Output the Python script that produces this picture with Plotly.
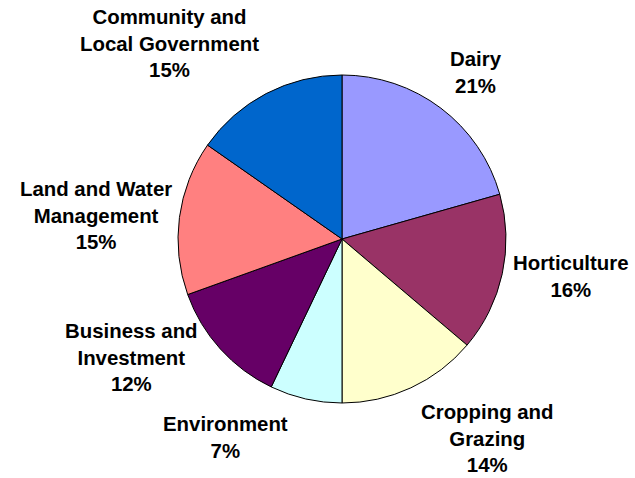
import math
import plotly.graph_objects as go

# ---- data ----
categories = ["Dairy", "Horticulture", "Cropping and<br>Grazing", "Environment",
              "Business and<br>Investment", "Land and Water<br>Management",
              "Community and<br>Local Government"]
values = [20.6, 15.6, 13.8, 7.1, 12.4, 15.2, 15.3]
colors = ["#9999FF", "#993366", "#FFFFCC", "#CCFFFF", "#660066", "#FF8080", "#0066CC"]

# label fine-tuning (pixels, styling only)
label_xshift = [0, -3, 3, -13, -11, 6, 0]

W, H = 635, 478
CX, CY, R = 342, 239, 164
GAP = 12
FONT = dict(family="Liberation Sans, Arial, sans-serif", size=20.4, color="#000000")

fig = go.Figure(go.Pie(
    labels=categories, values=values, sort=False, direction="clockwise", rotation=0,
    marker=dict(colors=colors, line=dict(color="#000000", width=1)),
    textinfo="none", hoverinfo="label+percent", showlegend=False,
    domain=dict(x=[(CX - R) / W, (CX + R) / W], y=[(H - CY - R) / H, (H - CY + R) / H]),
))

# labels placed from slice mid-angles
total = sum(values)
cum = 0.0
annotations = []
for lab, v, xs in zip(categories, values, label_xshift):
    mid = (cum + v / 2) / total * 2 * math.pi
    cum += v
    ux, uy = math.sin(mid), -math.cos(mid)  # screen coords (y down)
    px = CX + (R + GAP) * ux
    py = CY + (R + GAP) * uy
    xanchor = "left" if ux > 0 else "right"
    if uy < -0.5:
        yanchor = "bottom"
    elif uy > 0.75:
        yanchor = "top"
    else:
        yanchor = "middle"
    pct = round(v / total * 100)
    annotations.append(dict(
        x=px / W, y=1 - py / H, xref="paper", yref="paper", xshift=xs,
        text=f"<b>{lab}<br>{pct}%</b>", showarrow=False,
        xanchor=xanchor, yanchor=yanchor, align="center", font=FONT,
    ))

fig.update_layout(
    width=W, height=H, margin=dict(l=0, r=0, t=0, b=0),
    paper_bgcolor="#FFFFFF", plot_bgcolor="#FFFFFF",
    annotations=annotations,
)

fig.write_html("out.html", config={"displayModeBar": False},
               post_script="document.body.style.margin='0';")
